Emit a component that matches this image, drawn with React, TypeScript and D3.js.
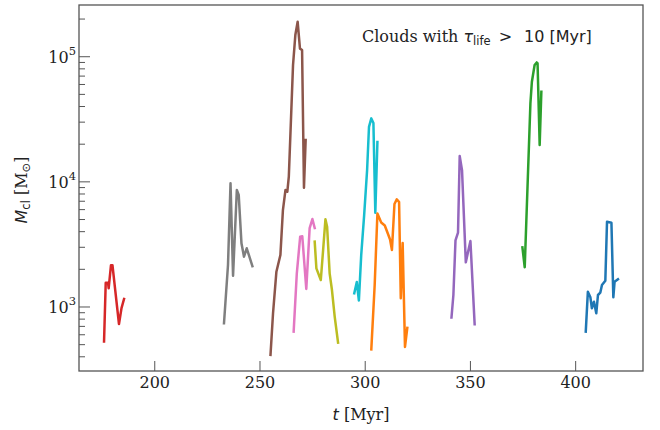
import React from 'react';
import * as d3 from 'd3';

// cloud tracks: time [Myr] and mass [Msun]
const tRed = [175.9, 176.7, 177.8, 178.1, 179.2, 179.9, 183.0, 184.2, 185.4];
const mRed = [530, 1560, 1560, 1410, 2160, 2160, 730, 980, 1160];

const tGray = [232.9, 234.8, 236.0, 237.2, 239.0, 239.9, 241.2, 242.4, 243.7, 246.4];
const mGray = [741, 2165, 9730, 1778, 8610, 7860, 3228, 2523, 2945, 2123];

const tBrown = [255.0, 256.2, 257.8, 259.7, 260.9, 262.1, 263.0, 263.7, 265.7, 266.8, 267.9, 269.0, 270.0, 270.9, 271.7];
const mBrown = [414, 891, 1914, 2600, 5953, 8600, 8340, 10990, 85700, 149000, 190000, 116000, 113000, 8980, 21600];

const tPink = [266.0, 267.5, 269.1, 270.1, 272.0, 273.6, 274.9, 276.0];
const mPink = [635, 1859, 3645, 3675, 1393, 4276, 5046, 4276];

const tOlive = [276.0, 276.8, 278.9, 280.0, 281.1, 281.9, 283.1, 284.2, 285.5, 287.1];
const mOlive = [3327, 2037, 1643, 2852, 5015, 4375, 1859, 1367, 837, 519];

const tCyan = [294.8, 296.0, 297.0, 298.1, 299.5, 300.9, 301.8, 302.9, 303.9, 304.8, 305.8];
const mCyan = [1286, 1584, 1127, 2600, 5430, 12420, 27540, 32150, 29500, 5660, 20800];

const tOrange = [302.9, 304.5, 305.8, 307.6, 309.3, 310.7, 311.8, 312.7, 313.9, 315.0, 316.1, 316.9, 317.8, 318.9, 320.0];
const mOrange = [459, 1500, 5580, 4730, 4478, 3880, 3460, 2852, 6650, 7250, 6900, 1173, 3245, 480, 680];

const tPurple = [341.0, 341.9, 342.9, 344.1, 344.9, 346.0, 347.8, 348.8, 350.0, 352.0];
const mPurple = [824, 1247, 3400, 3937, 16070, 12420, 2274, 2722, 3367, 728];

const tGreen = [374.7, 375.8, 378.5, 379.2, 380.5, 381.5, 381.9, 382.9, 383.7];
const mGreen = [2998, 2075, 42400, 63100, 85800, 90000, 88400, 19700, 52500];

const tBlue = [404.8, 405.8, 407.0, 407.7, 408.7, 409.8, 410.6, 411.7, 412.5, 414.1, 414.9, 417.0, 417.9, 418.5, 420.1];
const mBlue = [635, 1325, 1195, 977, 1103, 890, 1247, 1301, 1499, 1622, 4800, 4710, 1195, 1592, 1665];

const xTicks = [200, 250, 300, 350, 400];

const tracks = [
  { t: tRed, m: mRed, color: '#d62728' },
  { t: tGray, m: mGray, color: '#7f7f7f' },
  { t: tBrown, m: mBrown, color: '#8c564b' },
  { t: tPink, m: mPink, color: '#e377c2' },
  { t: tOlive, m: mOlive, color: '#bcbd22' },
  { t: tCyan, m: mCyan, color: '#17becf' },
  { t: tOrange, m: mOrange, color: '#ff7f0e' },
  { t: tPurple, m: mPurple, color: '#9467bd' },
  { t: tGreen, m: mGreen, color: '#2ca02c' },
  { t: tBlue, m: mBlue, color: '#1f77b4' },
];

const W = 660;
const H = 430;
const left = 79, right = 643, top = 5, bottom = 371;

const serif = 'DejaVu Serif';
const sans = 'DejaVu Sans';

export default function App() {
  const x = d3.scaleLinear().domain([164, 432]).range([left, right]);
  const y = d3.scaleLog().domain([308, 259000]).range([bottom, top]);

  const line = d3.line<[number, number]>()
    .x(d => x(d[0]))
    .y(d => y(d[1]));

  const yTicks = y.ticks();
  const spine = '#555';

  return (
    <svg width={W} height={H} style={{ position: 'absolute', left: 0, top: 0, background: '#fff' }}>
      {tracks.map((s, i) => (
        <path key={i}
          d={line(s.t.map((t, j) => [t, s.m[j]] as [number, number])) || ''}
          fill="none" stroke={s.color} strokeWidth={2.5}
          strokeLinejoin="round" strokeLinecap="square" />
      ))}

      {/* y ticks, inward */}
      {yTicks.map((v, i) => {
        const major = Math.abs(Math.log10(v) - Math.round(Math.log10(v))) < 1e-9;
        return (
          <g key={i}>
            <line x1={left} x2={left + (major ? 11 : 6)} y1={y(v)} y2={y(v)} stroke={spine} strokeWidth={1} />
            {major && (
              <text x={76} y={y(v) + 6} textAnchor="end" fontFamily={serif} fontSize={16} fill="#222">
                10<tspan dy={-8} fontSize={11.5}>{Math.round(Math.log10(v))}</tspan>
              </text>
            )}
          </g>
        );
      })}

      {/* x ticks, inward */}
      {xTicks.map(v => (
        <g key={v}>
          <line x1={x(v)} x2={x(v)} y1={bottom} y2={bottom - 10} stroke={spine} strokeWidth={1} />
          <text x={x(v)} y={388} textAnchor="middle" fontFamily={serif} fontSize={16} fill="#222">{v}</text>
        </g>
      ))}

      <rect x={left} y={top} width={right - left} height={bottom - top} fill="none" stroke={spine} strokeWidth={1.3} />

      <text x={361} y={420} textAnchor="middle" fontSize={16} fill="#222">
        <tspan fontFamily={sans} fontStyle="italic">t</tspan>
        <tspan fontFamily={serif}> [Myr]</tspan>
      </text>

      <text transform="translate(27,190) rotate(-90)" textAnchor="middle" fontSize={16} fill="#222">
        <tspan fontFamily={sans} fontStyle="italic">M</tspan>
        <tspan fontFamily={sans} fontSize={11.5} dy={3}>cl</tspan>
        <tspan fontFamily={serif} dy={-3}> [M</tspan>
        <tspan fontFamily={sans} fontSize={11.5} dy={3}>⊙</tspan>
        <tspan fontFamily={serif} dy={-3}>]</tspan>
      </text>

      <text x={362} y={42} fontSize={16} fill="#222">
        <tspan fontFamily={serif}>Clouds with </tspan>
        <tspan fontFamily={sans} fontStyle="italic">τ</tspan>
        <tspan fontFamily={sans} fontSize={11.5} dy={3}>life</tspan>
        <tspan fontFamily={sans} dy={-3} dx={8}>&gt;</tspan>
        <tspan fontFamily={sans} dx={12}>10</tspan>
        <tspan fontFamily={sans} dx={5}>[Myr]</tspan>
      </text>
    </svg>
  );
}
